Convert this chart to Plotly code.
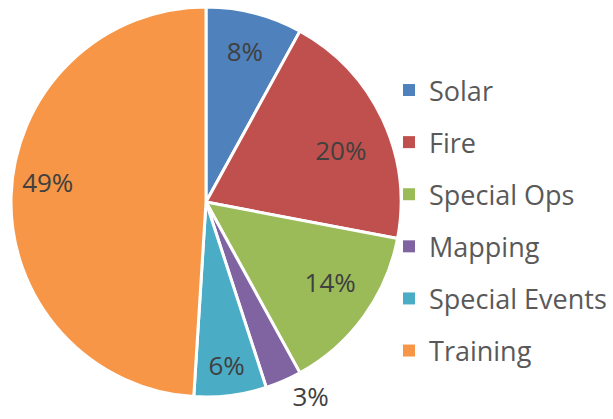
import plotly.graph_objects as go

categories = ["Solar", "Fire", "Special Ops", "Mapping", "Special Events", "Training"]
values = [8, 20, 14, 3, 6, 49]
colors = ["#4F81BD", "#C0504D", "#9BBB59", "#8064A2", "#4BACC6", "#F79646"]
text_pos = ["inside", "inside", "inside", "outside", "inside", "inside"]

NB = "\u00a0"
# label padding (non-breaking spaces) to nudge text toward Excel-like placement
templates = [
    "%{percent:.0%}",
    NB * 7 + "%{percent:.0%}",
    NB * 4 + "%{percent:.0%}",
    "%{percent:.0%}",
    "%{percent:.0%}",
    "%{percent:.0%}" + NB * 18 + "<br>" + NB,
]

W, H = 613, 419
cx, cy, R = 206, 202, 195
FONT = "Open Sans"

fig = go.Figure()
fig.add_trace(go.Pie(
    labels=categories, values=values, sort=False, direction="clockwise", rotation=0,
    marker=dict(colors=colors, line=dict(color="white", width=3)),
    texttemplate=templates,
    textposition=text_pos, insidetextorientation="horizontal",
    textfont=dict(family=FONT, size=26, color="#404040"),
    outsidetextfont=dict(family=FONT, size=26, color="#404040"),
    showlegend=False, hoverinfo="skip",
    domain=dict(x=[(cx - R) / W, (cx + R) / W], y=[(H - cy - R) / H, (H - cy + R) / H]),
))
for name, col in zip(categories, colors):
    fig.add_trace(go.Scatter(
        x=[None], y=[None], mode="markers", name=name, legendgroup=name,
        marker=dict(symbol="square", size=12, color=col),
    ))

fig.update_layout(
    width=W, height=H, margin=dict(l=0, r=0, t=0, b=0),
    paper_bgcolor="white", plot_bgcolor="white",
    xaxis=dict(visible=False), yaxis=dict(visible=False),
    showlegend=True,
    legend=dict(x=0.6346, y=0.4738, xanchor="left", yanchor="middle",
                bgcolor="rgba(0,0,0,0)",
                font=dict(family=FONT, size=27, color="#595959"),
                tracegroupgap=14, itemsizing="constant"),
)
fig.write_html("out.html", config={"displayModeBar": False},
               post_script="document.body.style.margin='0px';")
